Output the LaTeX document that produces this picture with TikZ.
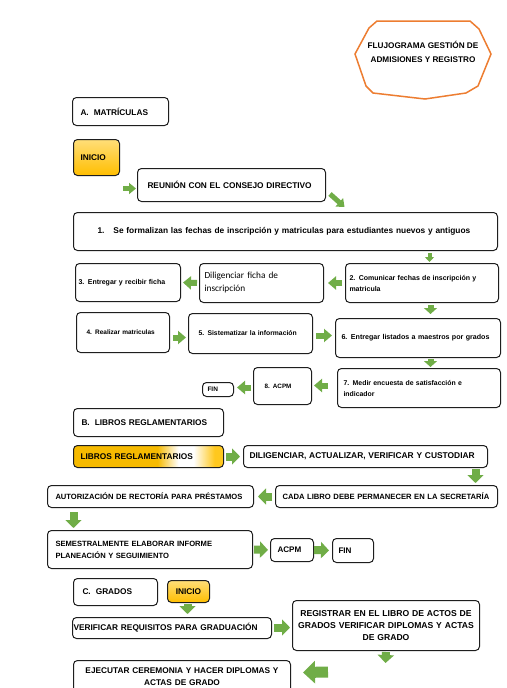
\documentclass[tikz,border=0pt]{standalone}
\usepackage{fontspec}
\setmainfont{Liberation Sans}
\newfontfamily\calfont{Carlito}
\usetikzlibrary{arrows.meta}
\definecolor{gA}{RGB}{112,173,71}
\definecolor{edgeC}{RGB}{30,30,30}
\definecolor{octC}{RGB}{237,125,49}
\definecolor{inTop}{RGB}{255,222,120}
\definecolor{inBot}{RGB}{255,190,0}
\definecolor{libY}{RGB}{246,186,0}
\definecolor{libY2}{RGB}{255,200,30}
\pgfdeclarehorizontalshading{libshade}{100bp}{color(0bp)=(libY); color(25bp)=(libY); color(53bp)=(libY); color(60bp)=(white); color(65bp)=(white); color(72bp)=(libY2); color(100bp)=(libY2)}
\newcommand\fs[2]{\fontsize{#1}{#2}\selectfont\bfseries}
\hyphenpenalty=10000
\tikzset{
  box/.style={draw=edgeC, line width=1pt, rounded corners=4pt, fill=white, inner ysep=1pt, font=\fs{8.3}{12}},
  inicio/.style={top color=inTop, bottom color=inBot},
  libros/.style={shading=libshade},
  octo/.style={draw=octC, line width=1.5pt, line join=miter},
  garrow/.style={draw=gA, line width=6pt, -{Triangle[length=8pt,width=13pt]}},
  garrowB/.style={draw=gA, line width=8pt, -{Triangle[length=8pt,width=16pt]}},
  garrowV/.style={draw=gA, line width=6pt, -{Triangle[length=6pt,width=13pt]}},
  garrowXS/.style={draw=gA, line width=4pt, -{Triangle[length=5pt,width=9pt]}},
  garrowS/.style={draw=gA, line width=5pt, -{Triangle[length=7pt,width=11pt]}},
  garrowL/.style={draw=gA, line width=11pt, -{Triangle[length=12pt,width=22pt]}}
}
\newcommand\bx[8][]{%
  \pgfmathsetmacro\bxw{#5-#3}%
  \pgfmathsetmacro\bxh{#6-#4}%
  \pgfmathsetmacro\bxt{#5-#3-2*#7}%
  \node[box,inner xsep=#7pt,text width=\bxt pt,align=left,#1,minimum width=\bxw pt,minimum height=\bxh pt,anchor=north west] (#2) at (#3,#4) {#8};}
\begin{document}
\begin{tikzpicture}[x=1pt,y=-1pt]
\clip (0,0) rectangle (506,688);
\fill[white] (0,0) rectangle (506,688);
% title
\draw[octo] (377,21) -- (470,21) -- (479,29) -- (491,54) -- (478,86) -- (466,93) -- (425,99) -- (373,93) -- (366,86) -- (355,54) -- (369,28) -- cycle;
\node[font=\fs{8.2}{14}, align=center] (title) at (423,52) {FLUJOGRAMA GESTIÓN DE\\ADMISIONES Y REGISTRO};
% A
\bx{secA}{72}{97}{168}{125}{8}{A.\hspace{5pt}MATRÍCULAS}
\bx[inicio]{inicioA}{73}{139}{119}{175}{7}{INICIO}
\bx{reunion}{137}{168}{325}{201}{10}{REUNIÓN CON EL CONSEJO DIRECTIVO}
\bx[font=\fs{8.35}{12}]{b1}{73}{212}{497}{250}{24}{1.\hspace{9pt}Se formalizan las fechas de inscripción y matriculas para estudiantes nuevos y antiguos}
\bx[font=\fs{7}{11}]{b2}{345}{263}{498}{302}{4}{2. Comunicar fechas de inscripción y\\matricula}
\bx[font=\calfont\fontsize{9.3}{13}\selectfont]{dilig}{199}{263}{323}{302}{5}{Diligenciar ficha de\\inscripción}
\bx[font=\fs{7}{11}]{b3}{75}{263}{180}{301}{3}{3. Entregar y recibir ficha}
\bx[font=\fs{6.5}{11}]{b4}{76}{312}{169}{352}{10}{4. Realizar matriculas}
\bx[font=\fs{6.8}{11}]{b5}{188}{313}{312}{353}{10}{5. Sistematizar la información}
\bx[font=\fs{7.1}{11}]{b6}{335}{318}{500}{357}{6}{6. Entregar listados a maestros por grados}
\bx[font=\fs{6.9}{11}]{b7}{337}{368}{500}{407}{6}{7. Medir encuesta de satisfacción e\\indicador}
\bx[font=\fs{6.3}{11}]{b8}{253}{367}{311}{404}{11}{8. ACPM}
\bx[font=\fs{6.5}{11}]{finA}{202}{382}{233}{396}{5}{FIN}
% B
\bx{secB}{73}{408}{223}{436}{8}{B.\hspace{5pt}LIBROS REGLAMENTARIOS}
\bx[libros]{libros}{73}{445}{223}{467}{7}{LIBROS REGLAMENTARIOS}
\bx[font=\fs{8.4}{12}]{dilB}{243}{445}{487}{467}{6}{DILIGENCIAR, ACTUALIZAR, VERIFICAR Y CUSTODIAR}
\bx[font=\fs{7.65}{12}]{cada}{275}{485}{497}{507}{7}{CADA LIBRO DEBE PERMANECER EN LA SECRETARÍA}
\bx[font=\fs{7.6}{12}]{autor}{47}{485}{253}{507}{8}{AUTORIZACIÓN DE RECTORÍA PARA PRÉSTAMOS}
\bx[font=\fs{7.6}{12}]{semes}{47}{530}{252}{568}{8}{SEMESTRALMENTE ELABORAR INFORME\\PLANEACIÓN Y SEGUIMIENTO}
\bx[font=\fs{8.1}{12}]{acpmB}{270}{538}{313}{561}{7}{ACPM}
\bx[font=\fs{8.1}{12}]{finB}{332}{538}{373}{562}{6}{FIN}
% C
\bx{secC}{73}{578}{157}{605}{9}{C.\hspace{5pt}GRADOS}
\bx[inicio,align=center]{inicioC}{167}{580}{209}{602}{3}{INICIO}
\bx{verif}{72}{617}{271}{638}{1}{VERIFICAR REQUISITOS PARA GRADUACIÓN}
\bx[align=center,font=\fs{8.6}{12}]{regis}{292}{600}{479}{650}{3}{REGISTRAR EN EL LIBRO DE ACTOS DE\\GRADOS VERIFICAR DIPLOMAS Y ACTAS\\DE GRADO}
\bx[align=center]{ejec}{73}{660}{290}{692}{5}{EJECUTAR CEREMONIA Y HACER DIPLOMAS Y\\ACTAS DE GRADO}
\coordinate (regisend) at (385.5,663);
\coordinate (bigstart) at (328,672);
% arrows A
\draw[garrowS] ([xshift=3pt,yshift=-31pt]inicioA.east) -- ([xshift=-1pt,yshift=-3.5pt]reunion.west);
\draw[garrowS] ([xshift=4pt,yshift=8pt]reunion.south east) -- ([xshift=59pt,yshift=5pt]b1.north);
\draw[garrowXS] ([xshift=144pt,yshift=-2pt]b1.south) -- ([xshift=7.5pt,yshift=1pt]b2.north);
\draw[garrow, shorten <=3pt, shorten >=4pt] (b2.west) -- (dilig.east);
\draw[garrow, shorten <=2pt, shorten >=2pt] (dilig.west) -- (b3.east);
\draw[garrow, shorten <=3pt, shorten >=2pt] ([yshift=-5pt]b4.east) -- ([yshift=-4pt]b5.west);
\draw[garrow, shorten <=3pt, shorten >=3pt] ([yshift=-2pt]b5.east) -- ([yshift=2.5pt]b6.west);
\draw[garrowV] ([xshift=8.5pt,yshift=-2pt]b2.south) -- ([xshift=12.5pt,yshift=4pt]b6.north);
\draw[garrowV] ([xshift=12.5pt,yshift=-1pt]b6.south) -- ([xshift=11.5pt,yshift=1pt]b7.north);
\draw[garrow, shorten <=9pt, shorten >=2pt] ([yshift=2.5pt]b7.west) -- ([yshift=0.5pt]b8.east);
\draw[garrow, shorten <=2pt, shorten >=3pt] ([yshift=-1.5pt]b8.west) -- ([yshift=2pt]finA.east);
% arrows B
\draw[garrowB, shorten <=2pt, shorten >=3pt] (libros.east) -- (dilB.west);
\draw[garrowB] ([xshift=110pt,yshift=-1pt]dilB.south) -- ([xshift=89pt,yshift=2pt]cada.north);
\draw[garrowB, shorten <=3pt, shorten >=4pt] (cada.west) -- (autor.east);
\draw[garrowB] ([xshift=-77pt,yshift=-4pt]autor.south) -- ([xshift=-76.5pt,yshift=2pt]semes.north);
\draw[garrowB, shorten <=1pt, shorten >=2pt] (semes.east) -- (acpmB.west);
\draw[garrowB, shorten >=3pt] (acpmB.east) -- (finB.west);
% arrows C
\draw[garrowB] ([xshift=-1pt,yshift=-1pt]inicioC.south) -- ([xshift=15.5pt,yshift=3pt]verif.north);
\draw[garrowB, shorten <=2pt, shorten >=2pt] ([yshift=0.5pt]verif.east) -- ([yshift=-2pt]regis.west);
\draw[garrowB] ([yshift=-1pt]regis.south) -- (regisend);
\draw[garrowL] (bigstart) -- ([xshift=12pt,yshift=4pt]ejec.east);
\end{tikzpicture}
\end{document}
